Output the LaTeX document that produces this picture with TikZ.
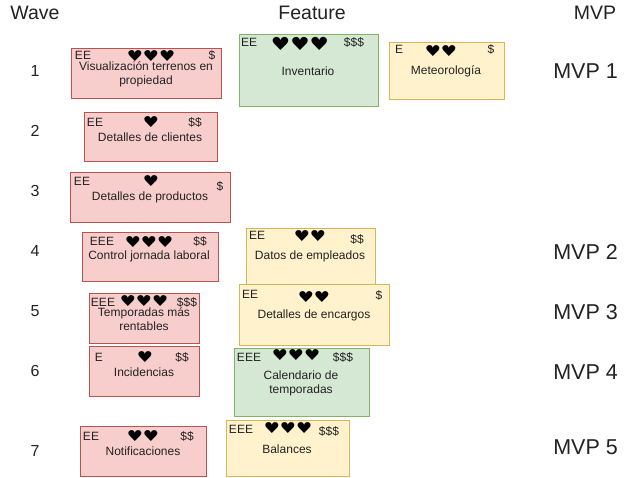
\documentclass[tikz,border=0pt]{standalone}
\usepackage{fontspec}
\setmainfont{Liberation Sans}
\newfontfamily\heartfont[FakeStretch=1.2]{DejaVu Sans}
\definecolor{redfill}{HTML}{F8CECC}\definecolor{redline}{HTML}{B85450}
\definecolor{greenfill}{HTML}{D5E8D4}\definecolor{greenline}{HTML}{82B366}
\definecolor{yellowfill}{HTML}{FFF2CC}\definecolor{yellowline}{HTML}{D6B656}
\definecolor{inktext}{HTML}{222222}
\tikzset{
  redbox/.style={draw=redline,fill=redfill},
  greenbox/.style={draw=greenline,fill=greenfill},
  yellowbox/.style={draw=yellowline,fill=yellowfill},
  tag/.style={inner sep=0pt,text=inktext,font=\fontsize{12}{14}\selectfont,align=center},
  head/.style={inner sep=0pt,text=inktext,font=\fontsize{19.5}{22}\selectfont},
  wavenum/.style={inner sep=0pt,text=inktext,font=\fontsize{16}{18}\selectfont},
  mvp/.style={inner sep=0pt,text=inktext,font=\fontsize{21.5}{24}\selectfont}
}
\begin{document}
\begin{tikzpicture}[x=1pt,y=-1pt]
\useasboundingbox (0,0) rectangle (628,477);
\node[head] (wave) at (35,13) {Wave};\node[head] (feature) at (312,13) {Feature};\node[head] (mvphead) at (595,13) {MVP};
\foreach \y [count=\i] in {71,131,191,251,311,371,451}{\node[wavenum] (wave\i) at (35,\y) {\i};}
\foreach \n/\y in {1/71,2/252,3/312,4/372,5/447}{\node[mvp] (mvp\n) at (585.5,\y) {MVP \n};}
% name/style/box x,y,w,h/effort/hearts/cost/text
\foreach \n/\s/\bx/\by/\bw/\bh/\e/\ex/\ey/\h/\hx/\hy/\hs/\d/\dx/\dy/\t/\tx/\ty in {
  terrenos/redbox/146.5/73/150/50/EE/83/55/{♥♥♥}/151/56/15/{\$}/212/55/{Visualización terrenos en\\propiedad}/146/74,
  clientes/redbox/150.5/136.5/133/49/EE/95/122/{♥}/151/122/15/{\$\$}/195/122/{Detalles de clientes}/150/137,
  productos/redbox/150/197/160/50/EE/82/181/{♥}/151/181/15/{\$}/220/186/{Detalles de productos}/150/197,
  jornada/redbox/150/256.5/136/49/EEE/102/241/{♥♥♥}/149/242/15/{\$\$}/200/241/{Control jornada laboral}/149/256,
  rentables/redbox/144/318/110/50/EEE/103/302/{♥♥♥}/144/301/15/{\$\$\$}/187/302/{Temporadas más\\rentables}/144/319,
  incidencias/redbox/144/371/110/50/E/99/357/{♥}/145/357/15/{\$\$}/182/357/{Incidencias}/144/372,
  notificaciones/redbox/143/451/126/50/EE/91/436/{♥♥}/143/436/15/{\$\$}/187/436/{Notificaciones}/143/451,
  inventario/greenbox/308.5/70/139/72/EE/249/42/{♥♥♥}/300/44/18/{\$\$\$}/354/42/{Inventario}/308/71,
  meteorologia/yellowbox/446.5/70.5/115/57/E/399/49/{♥♥}/441/51/15/{\$}/491/49/{Meteorología}/446/71,
  empleados/yellowbox/310.5/256/129/56/EE/257/235/{♥♥}/310/236/15/{\$\$}/357/239/{Datos de empleados}/310/256,
  encargos/yellowbox/314/314.5/150/61/EE/250/294/{♥♥}/314/297/15/{\$}/379/295/{Detalles de encargos}/314/315,
  temporadas/greenbox/301.5/382/135/68/EEE/249/357/{♥♥♥}/296/355/15/{\$\$\$}/343/357/{Calendario de\\temporadas}/301/383,
  balances/yellowbox/287.5/448/123/56/EEE/241/429/{♥♥♥}/288/428/15/{\$\$\$}/329/431/{Balances}/287/449}{
  \node[\s,minimum width=\bw pt,minimum height=\bh pt,inner sep=0pt] (\n) at (\bx,\by) {};
  \node[tag] (\n-text) at (\tx,\ty) {\t};
  \node[tag] (\n-effort) at (\ex,\ey) {\e};
  \node[tag,font=\heartfont\fontsize{\hs}{\hs}\selectfont,text=black] (\n-hearts) at (\hx,\hy) {\h};
  \node[tag] (\n-cost) at (\dx,\dy) {\d};
}
\end{tikzpicture}
\end{document}
